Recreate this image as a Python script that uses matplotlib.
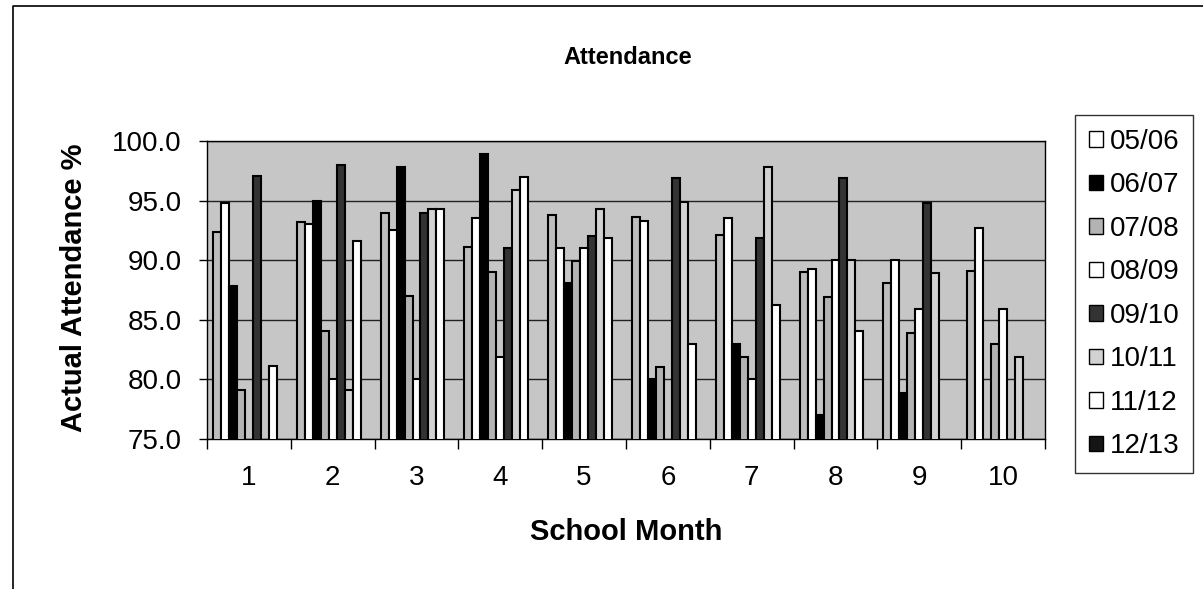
import numpy as np
import matplotlib
matplotlib.use('Agg')
import matplotlib.pyplot as plt
from matplotlib.lines import Line2D

plt.rcParams['font.family'] = ['Liberation Sans', 'DejaVu Sans']

# dados (nan = barra ausente)
months = [1, 2, 3, 4, 5, 6, 7, 8, 9, 10]
nan = np.nan
unlabeled = [92.4, 93.2, 94.0, 91.1, 93.8, 93.6, 92.1, 89.0, 88.1, 89.1]
y0506 = [94.8, 93.0, 92.5, 93.5, 91.0, 93.3, 93.5, 89.3, 90.0, 92.7]
y0607 = [87.8, 95.0, 97.8, 98.9, 88.1, 80.0, 83.0, 77.0, 78.9, nan]
y0708 = [79.1, 84.1, 87.0, 89.0, 89.9, 81.0, 81.9, 86.9, 83.9, 83.0]
y0809 = [nan, 80.0, 80.0, 81.9, 91.0, nan, 80.0, 90.0, 85.9, 85.9]
y0910 = [97.1, 98.0, 94.0, 91.0, 92.0, 96.9, 91.9, 96.9, 94.8, nan]
y1011 = [nan, 79.1, 94.3, 95.9, 94.3, 94.9, 97.8, 90.0, 88.9, 81.9]
y1112 = [81.1, 91.6, 94.3, 97.0, 91.9, 83.0, 86.2, 84.1, nan, nan]
y1213 = [nan] * 10

series = [unlabeled, y0506, y0607, y0708, y0809, y0910, y1011, y1112, y1213]
labels = ['_nolegend_', '05/06', '06/07', '07/08', '08/09', '09/10', '10/11', '11/12', '12/13']
cores = ['#bdbdbd', 'white', 'black', '#b3b3b3', 'white', '#333333', '#d2d2d2', 'white', '#151515']

W, H = 1203, 589
fig = plt.figure(figsize=(W / 100, H / 100), dpi=100)
ax = fig.add_axes([207 / W, 1 - 439 / H, 838 / W, 298 / H])
ax.set_facecolor('#c6c6c6')

x = np.array(months, dtype=float)
w = 1 / 10.5
for i, (vals, lab, cor) in enumerate(zip(series, labels, cores)):
    ax.bar(x + (i - 4) * w, vals, width=w, color=cor, edgecolor='black',
           linewidth=1.5, label=lab, zorder=3)

ax.set_ylim(75, 100)
ax.set_xlim(0.5, 10.5)
ax.set_yticks([75, 80, 85, 90, 95, 100])
ax.set_yticklabels([f'{v:.1f}' for v in [75, 80, 85, 90, 95, 100]])
ax.yaxis.grid(True, color='#222222', linewidth=1, zorder=1)
ax.set_axisbelow(True)
ax.set_xticks(months)
ax.set_xticks(np.arange(0.5, 11, 1), minor=True)
ax.tick_params(axis='x', which='major', length=0, labelsize=20, pad=19)
ax.tick_params(axis='x', which='minor', length=7, width=1, direction='out')
ax.tick_params(axis='y', length=6, width=1, labelsize=20, pad=12)
for s in ax.spines.values():
    s.set_color('black')
    s.set_linewidth(1)

# titulos em posicao fixa (pixels da referencia)
fig.text(628 / W, 1 - 58 / H, 'Attendance', fontsize=17, fontweight='bold',
         ha='center', va='center')
fig.text(626 / W, 1 - 532 / H, 'School Month', fontsize=21, fontweight='bold',
         ha='center', va='center')
fig.text(74 / W, 1 - 288 / H, 'Actual Attendance %', fontsize=21, fontweight='bold',
         ha='center', va='center', rotation=90)

leg = fig.legend(loc='upper left', bbox_to_anchor=(1075 / W, 1 - 115 / H),
                 fontsize=20, frameon=True, fancybox=False, edgecolor='black',
                 handlelength=0.5, handleheight=0.5, handletextpad=0.25,
                 labelspacing=0.63, borderpad=0.5, borderaxespad=0)
leg.get_frame().set_linewidth(1)
for h in leg.legend_handles:
    h.set_linewidth(1)

# moldura da area do grafico
fig.add_artist(Line2D([13 / W, 13 / W, 1], [0, 1 - 6 / H, 1 - 6 / H],
                      color='black', linewidth=1.2))

fig.savefig('out.png', dpi=100)
